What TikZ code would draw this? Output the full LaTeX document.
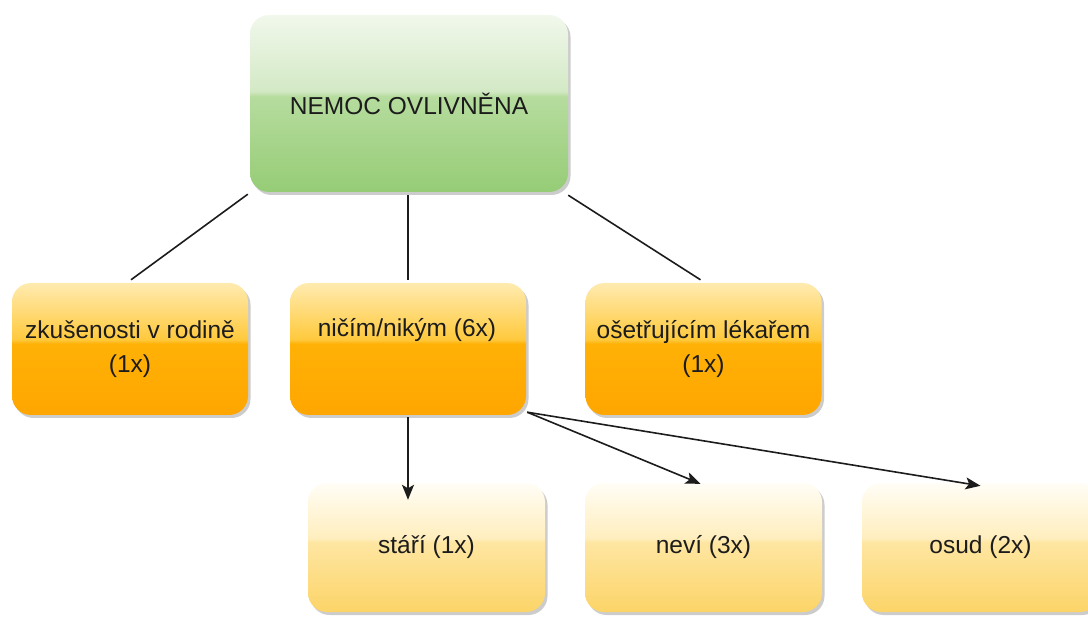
\documentclass[tikz,border=0pt]{standalone}
\usepackage{fontspec}
\setmainfont{Liberation Sans}
\usetikzlibrary{arrows.meta,shadows,calc}

% glossy colours: top, light side of the break, dark side of the break, bottom
\definecolor{gT}{HTML}{F1F8EC}
\definecolor{gL}{HTML}{D3E9C5}
\definecolor{gM}{HTML}{B6DC9E}
\definecolor{gB}{HTML}{96CC76}
\definecolor{oT}{HTML}{FFEBB0}
\definecolor{oL}{HTML}{FFC93C}
\definecolor{oM}{HTML}{FFB106}
\definecolor{oB}{HTML}{FFA600}
\definecolor{yT}{HTML}{FFFDF6}
\definecolor{yL}{HTML}{FFEEBD}
\definecolor{yM}{HTML}{FEE6A2}
\definecolor{yB}{HTML}{FCD468}
\definecolor{ink}{HTML}{1C1C1C}

\pgfdeclareverticalshading{greengloss}{100bp}{color(0bp)=(gB); color(25bp)=(gB); color(52bp)=(gM); color(53.5bp)=(gL); color(75bp)=(gT); color(100bp)=(gT)}
\pgfdeclareverticalshading{orangegloss}{100bp}{color(0bp)=(oB); color(25bp)=(oB); color(52bp)=(oM); color(53.5bp)=(oL); color(75bp)=(oT); color(100bp)=(oT)}
\pgfdeclareverticalshading{yellowgloss}{100bp}{color(0bp)=(yB); color(25bp)=(yB); color(52bp)=(yM); color(53.5bp)=(yL); color(75bp)=(yT); color(100bp)=(yT)}

\tikzset{
  box/.style={rounded corners=19pt, inner sep=0pt, align=center,
    font=\fontsize{24.5}{34}\selectfont, text=ink,
    drop shadow={shadow xshift=2.5pt, shadow yshift=-3pt, fill=black, opacity=0.2}},
  rootbox/.style={box, shading=greengloss, minimum width=318pt, minimum height=177pt},
  midbox/.style={box, shading=orangegloss, minimum width=236pt, minimum height=132pt},
  leafbox/.style={box, shading=yellowgloss, minimum width=237pt, minimum height=129pt},
  label/.style={inner sep=0pt, align=center, font=\fontsize{24.5}{34}\selectfont, text=ink},
  link/.style={draw=ink, line width=1.6pt},
  arrowlink/.style={link, -{Stealth[length=15pt, width=12pt, inset=3.5pt]}}
}

\begin{document}
\begin{tikzpicture}[x=1pt, y=-1pt]
\useasboundingbox (0,0) rectangle (1088,617);

% root
\node[rootbox] (root) at (409,103.5) {NEMOC OVLIVNĚNA};

% second row
\node[midbox] (rod) at (130,349) {zkušenosti v rodině\\(1x)};
\node[midbox] (nic) at (408,349) {};
\node[label] (nictext) at (407,330) {ničím/nikým (6x)};
\node[midbox] (lek) at (703.5,349) {ošetřujícím lékařem\\(1x)};

% third row
\node[leafbox] (star) at (426.5,547.5) {stáří (1x)};
\node[leafbox] (nevi) at (703.5,547.5) {neví (3x)};
\node[leafbox] (osud) at (980.5,547.5) {osud (2x)};

% plain links from the root
\draw[link] ($(root.south west)+(-2,2)$) -- ($(rod.north)+(1,-3)$);
\draw[link] ($(root.south)+(-1,3)$) -- ($(nic.north)+(0,-3)$);
\draw[link] ($(root.south east)+(0,3)$) -- ($(lek.north)+(-3,-3)$);

% arrows out of the middle node
\draw[arrowlink] ($(nic.south)+(0,2)$) -- ($(nic.south |- star.north)+(0,17)$);
\draw[arrowlink] ($(nic.south east)+(1,-3)$) -- ($(nevi.north)+(-3,1)$);
\draw[arrowlink] ($(nic.south east)+(1,-3)$) -- ($(osud.north)+(0,3)$);
\end{tikzpicture}
\end{document}
